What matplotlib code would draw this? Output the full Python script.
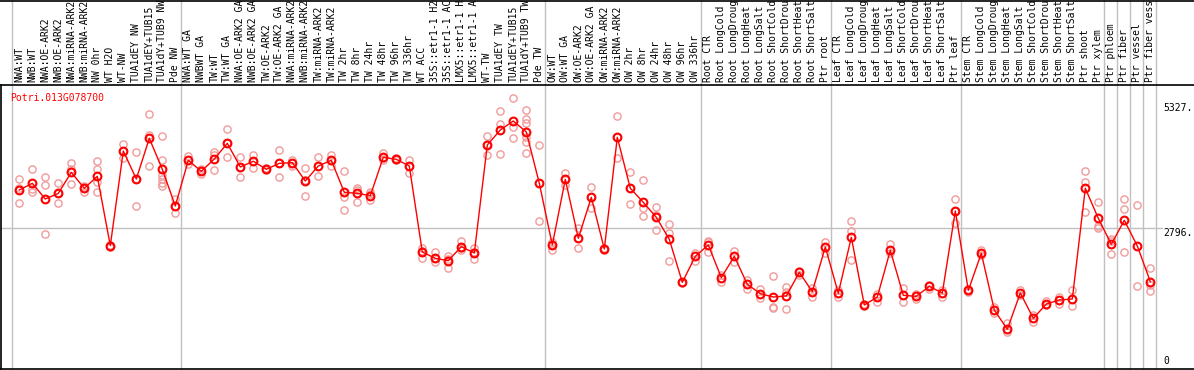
import matplotlib
matplotlib.use("Agg")
import matplotlib.pyplot as plt
import matplotlib.transforms as mtransforms
from matplotlib.lines import Line2D

#########################################################
########  Data  #########################################
#########################################################

geneName = "Potri.013G078700"

labels = [
    "NWA:WT", "NWB:WT", "NWA:OE-ARK2", "NWB:OE-ARK2", "NWA:miRNA-ARK2", "NWB:miRNA-ARK2",
    "NW 0hr", "WT H2O", "WT-NW", "TUA1dEY NW", "TUA1dEY+TUB15", "TUA1dY+TUB9 NW", "Pde NW",
    "NWA:WT GA", "NWBWT GA", "TW:WT", "TW:WT GA", "NWA:OE-ARK2 GA", "NWB:OE-ARK2 GA",
    "TW:OE-ARK2", "TW:OE-ARK2 GA", "NWA:miRNA-ARK2 GA", "NWB:miRNA-ARK2 GA", "TW:miRNA-ARK2",
    "TW:miRNA-ARK2", "TW 2hr", "TW 8hr", "TW 24hr", "TW 48hr", "TW 96hr", "TW 336hr", "WT ACC",
    "35S::etr1-1 H2O", "35S::etr1-1 ACC", "LMX5::etr1-1 H2O", "LMX5::etr1-1 ACC", "WT-TW",
    "TUA1dEY TW", "TUA1dEY+TUB15", "TUA1dY+TUB9 TW", "Pde TW",
    "OW:WT", "OW:WT GA", "OW:OE-ARK2", "OW:OE-ARK2 GA", "OW:miRNA-ARK2", "OW:miRNA-ARK2",
    "OW 2hr", "OW 8hr", "OW 24hr", "OW 48hr", "OW 96hr", "OW 336hr",
    "Root CTR", "Root LongCold", "Root LongDrought", "Root LongHeat", "Root LongSalt",
    "Root ShortCold", "Root ShortDrought", "Root ShortHeat", "Root ShortSalt", "Ptr root",
    "Leaf CTR", "Leaf LongCold", "Leaf LongDrought", "Leaf LongHeat", "Leaf LongSalt",
    "Leaf ShortCold", "Leaf ShortDrought", "Leaf ShortHeat", "Leaf ShortSalt", "Ptr leaf",
    "Stem CTR", "Stem LongCold", "Stem LongDrought", "Stem LongHeat", "Stem LongSalt",
    "Stem ShortCold", "Stem ShortDrought", "Stem ShortHeat", "Stem ShortSalt", "Ptr shoot",
    "Ptr xylem", "Ptr phloem", "Ptr fiber", "Ptr vessel", "Ptr fiber vessel",
]

groupSizes = [13, 28, 12, 10, 10, 11, 1, 1, 1, 1]

means = [
    3564, 3699, 3382, 3496, 3922, 3598, 3841, 2437, 4354, 3787, 4610, 3983, 3240,
    4165, 3942, 4192, 4509, 4030, 4145, 3983, 4104, 4118, 3746, 4050, 4165, 3517,
    3496, 3449, 4226, 4185, 4050, 2309, 2180, 2133, 2417, 2288, 4475, 4779, 4961,
    4739, 3699, 2450, 3780, 2585, 3416, 2369, 4631, 3598, 3314, 3011, 2565, 1694,
    2221, 2450, 1789, 2221, 1654, 1465, 1397, 1418, 1897, 1505, 2410, 1472, 2606,
    1235, 1397, 2342, 1431, 1411, 1613, 1478, 3139, 1532, 2282, 1134, 743, 1478,
    965, 1256, 1337, 1357, 3598, 2990, 2464, 2950, 2430, 1708,
]

reps = [
    [3787, 3598, 3294], [3989, 3577, 3530], [3827, 3659, 2666], [3699, 3496, 3294],
    [4111, 3989, 3679], [3652, 3598, 3517], [4158, 3989, 3733, 3530], [2457, 2437, 2417],
    [4489, 4354, 4219], [4327, 3787, 3240], [5103, 4678, 4043],
    [4657, 4172, 3868, 3780, 3699, 3645], [3382, 3240, 3105],
    [4259, 4165, 4084], [3989, 3942, 3881], [4340, 4273, 3962], [4793, 4509, 4225],
    [4232, 4030, 3820], [4266, 4145, 4016], [4003, 3983, 3962], [4374, 4104, 3820],
    [4171, 4104, 4057], [4016, 3766, 3436], [4225, 4050, 3841], [4266, 4165, 4057],
    [3942, 3422, 3152], [3598, 3564, 3328], [3517, 3476, 3355], [4320, 4205, 4165],
    [4205, 4185, 4165], [4171, 4050, 3901], [2396, 2329, 2194], [2315, 2180, 2113],
    [2234, 2167, 1991], [2538, 2383, 2349], [2383, 2315, 2167], [4651, 4489, 4279],
    [5164, 4894, 4286], [5420, 4847, 4610], [5184, 4995, 4914, 4630, 4543, 4306],
    [4469, 2936],
    [2518, 2450, 2349], [3901, 3780, 3665], [2788, 2585, 2383], [3618, 3416, 3193],
    [2383, 2369, 2356], [5056, 4631, 4205], [3922, 3598, 3281], [3760, 3193, 3037],
    [3213, 3058, 2754], [2869, 2700, 2126], [1708, 1674], [2295, 2126],
    [2531, 2504, 2315], [1843, 1708], [2335, 2113], [1741, 1559], [1553, 1384],
    [1816, 1195, 1181], [1593, 1505, 1147], [1924, 1843], [1586, 1404], [2518, 2282],
    [1539, 1404], [2936, 2734, 2147], [1249, 1208], [1465, 1289], [2471, 2282],
    [1573, 1303], [1451, 1357], [1640, 1559], [1539, 1397], [3375, 3139, 2889],
    [1559, 1505], [2342, 2248], [1201, 1066], [877, 682], [1546, 1438], [1033, 884],
    [1316, 1235], [1397, 1249], [1532, 1222], [3942, 3719, 3112], [3314, 2842, 2801],
    [2572, 2531, 2261], [3375, 3172, 2302], [3260, 1613], [1984, 1640, 1512],
]

yTicks = [0, 2796, 5327]
yTickLabels = ["0", "2796.", "5327."]

#########################################################
########  Plot  #########################################
#########################################################

W, H = 1194, 370
fig = plt.figure(figsize=(W / 100, H / 100), dpi=100)
ax = fig.add_axes([1 / W, 1 / H, 1193 / W, 284 / H])

font = "DejaVu Sans Mono"
fs = 7
pink = "#f09a9a"
red = "#ff0000"
grey = "#c0c0c0"

xs = list(range(len(labels)))

# replicate circles
for i, r in enumerate(reps):
    ax.plot([i] * len(r), r, "o", ms=5.2, mfc="none", mec=pink, mew=1.0, zorder=2)

# mean line + circles
ax.plot(xs, means, "-", color=red, lw=1.0, zorder=3)
ax.plot(xs, means, "o", ms=5.6, mfc="none", mec=red, mew=1.5, zorder=4)

ax.set_xlim(-1.408, 90.36)
ax.set_ylim(-61, 5690)

# group separator lines, run up through the label area
top = 1 + 85 / 284
bounds = [-0.6]
pos = 0
for g in groupSizes:
    pos += g
    bounds.append(pos - 1 + 0.4)
for b in bounds:
    ax.axvline(b, ymin=0, ymax=top, color=grey, lw=1.0, clip_on=False, zorder=1)

# 2796 reference line
ax.plot([-1.408, 87.9], [yTicks[1], yTicks[1]], color=grey, lw=1.0, zorder=1)

# right side values
for v, t in zip(yTicks, yTickLabels):
    va = "bottom" if v == 0 else "top"
    ax.text(88.0, v, t, fontsize=fs, family=font, ha="left", va=va, color="black")

# rotated sample labels above the plot
trans = mtransforms.blended_transform_factory(ax.transData, ax.transAxes)
for i, lab in enumerate(labels):
    ax.text(i, 1 + 3 / 284, lab, transform=trans, rotation=90, ha="center", va="bottom",
            fontsize=fs, family=font, color="black", clip_on=False)

ax.text(9.3 / 1193, 1 - 8 / 284, geneName, transform=ax.transAxes, ha="left", va="top",
        fontsize=fs, family=font, color=red)

for s in ["left", "bottom", "top"]:
    ax.spines[s].set_color("black")
    ax.spines[s].set_linewidth(1.2)
ax.spines["right"].set_visible(False)
ax.set_xticks([])
ax.set_yticks([])

fig.add_artist(Line2D([0, 1], [1 - 0.5 / H, 1 - 0.5 / H], color="black", lw=1.2))

fig.savefig("out.png", dpi=100)
